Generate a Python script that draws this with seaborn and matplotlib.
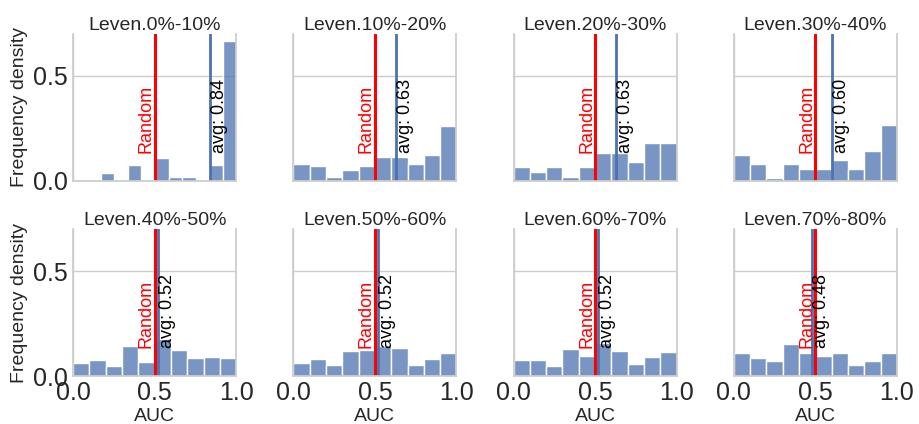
import numpy as np
import pandas as pd
import matplotlib
matplotlib.use("Agg")
import matplotlib.pyplot as plt
import seaborn as sns

# histogram data (fraction of samples per bin)
titles = ['Leven.0%-10%', 'Leven.10%-20%', 'Leven.20%-30%', 'Leven.30%-40%',
          'Leven.40%-50%', 'Leven.50%-60%', 'Leven.60%-70%', 'Leven.70%-80%']
bin_lo = [0.17, 0.0, 0.0, 0.0, 0.0, 0.0, 0.0, 0.0]
bin_hi = [1.0, 1.0, 1.0, 1.0, 1.0, 1.0, 1.0, 1.0]
heights = [
    [0.037, 0.000, 0.074, 0.000, 0.111, 0.019, 0.019, 0.000, 0.074, 0.667],
    [0.079, 0.071, 0.021, 0.054, 0.071, 0.113, 0.113, 0.079, 0.123, 0.260],
    [0.067, 0.043, 0.067, 0.021, 0.067, 0.135, 0.135, 0.089, 0.180, 0.180],
    [0.122, 0.079, 0.016, 0.079, 0.059, 0.059, 0.100, 0.059, 0.141, 0.265],
    [0.064, 0.075, 0.046, 0.144, 0.068, 0.179, 0.125, 0.087, 0.093, 0.087],
    [0.062, 0.082, 0.051, 0.119, 0.125, 0.142, 0.136, 0.054, 0.081, 0.112],
    [0.079, 0.076, 0.046, 0.131, 0.098, 0.157, 0.119, 0.056, 0.090, 0.116],
    [0.108, 0.084, 0.073, 0.153, 0.108, 0.098, 0.108, 0.052, 0.073, 0.108],
]
averages = [0.84, 0.63, 0.63, 0.60, 0.52, 0.52, 0.52, 0.48]
random_auc = 0.5

sns.set_theme(style="whitegrid")
plt.rcParams['font.family'] = ['Liberation Sans', 'DejaVu Sans']

fig, axes = plt.subplots(2, 4, figsize=(9.19, 4.24), dpi=100, sharex=True, sharey=True)
fig.subplots_adjust(left=0.0795, right=0.976, top=0.92, bottom=0.113, wspace=0.35, hspace=0.327)

for i, ax in enumerate(axes.flat):
    edges = np.linspace(bin_lo[i], bin_hi[i], len(heights[i]) + 1)
    df = pd.DataFrame({'auc': (edges[:-1] + edges[1:]) / 2, 'freq': heights[i]})
    sns.histplot(data=df, x='auc', weights='freq', bins=len(heights[i]),
                 binrange=(bin_lo[i], bin_hi[i]), ax=ax, edgecolor='white')
    ax.axvline(averages[i], color='#4c72b0', lw=2)
    ax.axvline(random_auc, color='red', lw=2.2)
    ax.text(random_auc, 0.135, 'Random', rotation=90, color='red', fontsize=13,
            ha='right', va='bottom')
    ax.text(averages[i] + 0.005, 0.135, 'avg: %.2f' % averages[i], rotation=90,
            color='black', fontsize=13, ha='left', va='bottom')
    ax.set_title(titles[i], fontsize=14, pad=3, color='#262626')
    ax.set_xlim(0, 1)
    ax.set_xticks([0, 0.5, 1.0])
    ax.set_yticks([0, 0.5])
    ax.tick_params(axis='x', labelsize=18, length=0, pad=3.5)
    ax.tick_params(axis='y', labelsize=18, length=0, pad=4)
    ax.set_ylabel('Frequency density' if i % 4 == 0 else '', fontsize=14, labelpad=3)
    ax.set_xlabel('AUC' if i >= 4 else '', fontsize=14, labelpad=2)
    sns.despine(ax=ax, top=True, right=False, left=False, bottom=False)

fig.savefig('out.png', dpi=100)
